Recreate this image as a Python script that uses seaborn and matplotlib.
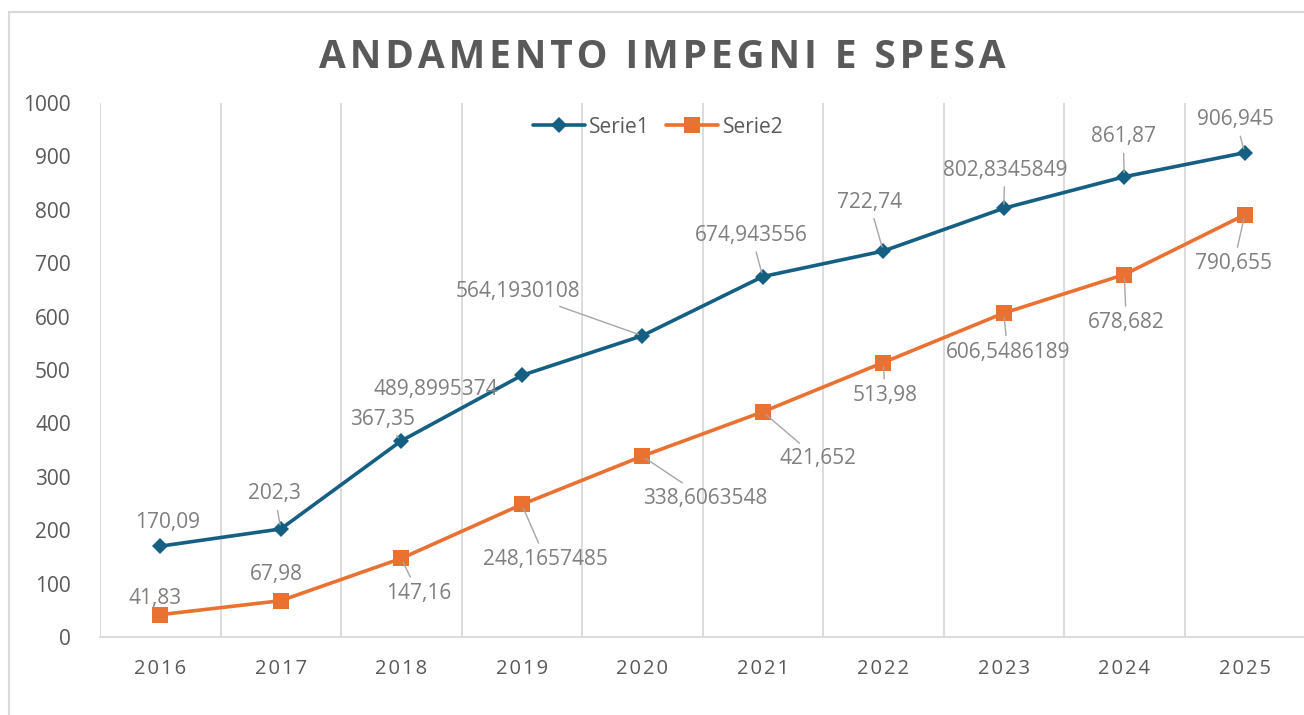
import matplotlib
matplotlib.use("Agg")
import matplotlib.pyplot as plt
import seaborn as sns
import pandas as pd
from matplotlib.lines import Line2D

years = ["2016", "2017", "2018", "2019", "2020", "2021", "2022", "2023", "2024", "2025"]
serie1 = [170.09, 202.3, 367.35, 489.8995374, 564.1930108, 674.943556, 722.74, 802.8345849, 861.87, 906.945]
serie2 = [41.83, 67.98, 147.16, 248.1657485, 338.6063548, 421.652, 513.98, 606.5486189, 678.682, 790.655]
serie1_labels = ["170,09", "202,3", "367,35", "489,8995374", "564,1930108", "674,943556", "722,74", "802,8345849", "861,87", "906,945"]
serie2_labels = ["41,83", "67,98", "147,16", "248,1657485", "338,6063548", "421,652", "513,98", "606,5486189", "678,682", "790,655"]
series_names = ["Serie1", "Serie2"]
title = "ANDAMENTO IMPEGNI E SPESA"

# label offsets (pixels) and leader-line flags - layout only
off1 = [(7, 24), (-6, 35), (-19, 21), (-86, -14), (-124, 44), (-11, 41), (-14, 49), (1, 38), (-1, 40), (-9, 33)]
off2 = [(-5, 16), (-4, 26), (17, -35), (24, -55), (63, -42), (55, -47), (2, -33), (4, -39), (2, -48), (-11, -49)]
lead1 = [False, True, True, False, True, True, True, True, True, True]
lead2 = [False, False, True, True, True, True, True, True, True, True]

C1 = "#156082"
C2 = "#E97132"
GRID = "#D9D9D9"
TXT = "#595959"
LBL = "#7F7F7F"

sns.set_theme(style="white")
FONT = ["Open Sans", "DejaVu Sans"]
plt.rcParams["font.family"] = FONT

df = pd.DataFrame({
    "x": list(range(len(years))) * 2,
    "value": serie1 + serie2,
    "serie": [series_names[0]] * len(years) + [series_names[1]] * len(years),
})

W, H = 1304, 715
fig = plt.figure(figsize=(W / 100, H / 100), dpi=100)
ax = fig.add_axes([100 / W, 1 - 637 / H, 1205 / W, 534 / H])

sns.lineplot(data=df, x="x", y="value", hue="serie", style="serie",
             markers={"Serie1": "D", "Serie2": "s"}, dashes=False,
             palette={"Serie1": C1, "Serie2": C2}, linewidth=2.6,
             markersize=8.5, markeredgewidth=0, ax=ax, legend=False)
for ln in ax.lines:
    if ln.get_marker() == "s":
        ln.set_markersize(11.5)

ax.set_xlim(-0.5, 9.5)
ax.set_ylim(0, 1000)
ax.set_yticks(range(0, 1001, 100))
ax.set_yticklabels([str(v) for v in range(0, 1001, 100)], color=TXT, fontsize=15)
ax.set_xticks(range(len(years)))
ax.set_xticklabels(["\u200a".join(y) for y in years], color=TXT, fontsize=14.5)
ax.tick_params(axis="x", length=0, pad=16)
ax.tick_params(axis="y", length=0, pad=21)
ax.set_xlabel("")
ax.set_ylabel("")
for s in ["top", "right", "left"]:
    ax.spines[s].set_visible(False)
ax.spines["bottom"].set_color(GRID)
ax.spines["bottom"].set_linewidth(1.3)
for k in range(11):
    ax.axvline(k - 0.5, color=GRID, lw=1.3, zorder=0)

for vals, labs, offs, leads in [(serie1, serie1_labels, off1, lead1), (serie2, serie2_labels, off2, lead2)]:
    for i, (v, lab, o, ld) in enumerate(zip(vals, labs, offs, leads)):
        kw = {}
        if ld:
            kw["arrowprops"] = dict(arrowstyle="-", color="#A6A6A6", lw=1.0, shrinkA=2, shrinkB=3)
        ax.annotate(lab, xy=(i, v), xytext=o, textcoords="offset pixels",
                    ha="center", va="center", color=LBL, fontsize=15, zorder=5, **kw)

handles = [Line2D([], [], color=C1, lw=2.6, marker="D", markersize=8.5, markeredgewidth=0),
           Line2D([], [], color=C2, lw=2.6, marker="s", markersize=11.5, markeredgewidth=0)]
leg = ax.legend(handles, series_names, loc="center", bbox_to_anchor=(0.463, 0.955),
                ncol=2, frameon=False, fontsize=15, handlelength=2.5,
                columnspacing=0.8, handletextpad=0.2)
for t in leg.get_texts():
    t.set_color(TXT)

fig.text(662 / W, 1 - 58 / H, "\u200a".join(title), ha="center", va="center",
         fontsize=28, fontweight="bold", color=TXT)

# chart border
fig.add_artist(Line2D([9 / W, 9 / W], [0, 1 - 12 / H], color=GRID, lw=1.5))
fig.add_artist(Line2D([9 / W, 1], [1 - 12 / H, 1 - 12 / H], color=GRID, lw=1.5))

fig.savefig("out.png", dpi=100)
